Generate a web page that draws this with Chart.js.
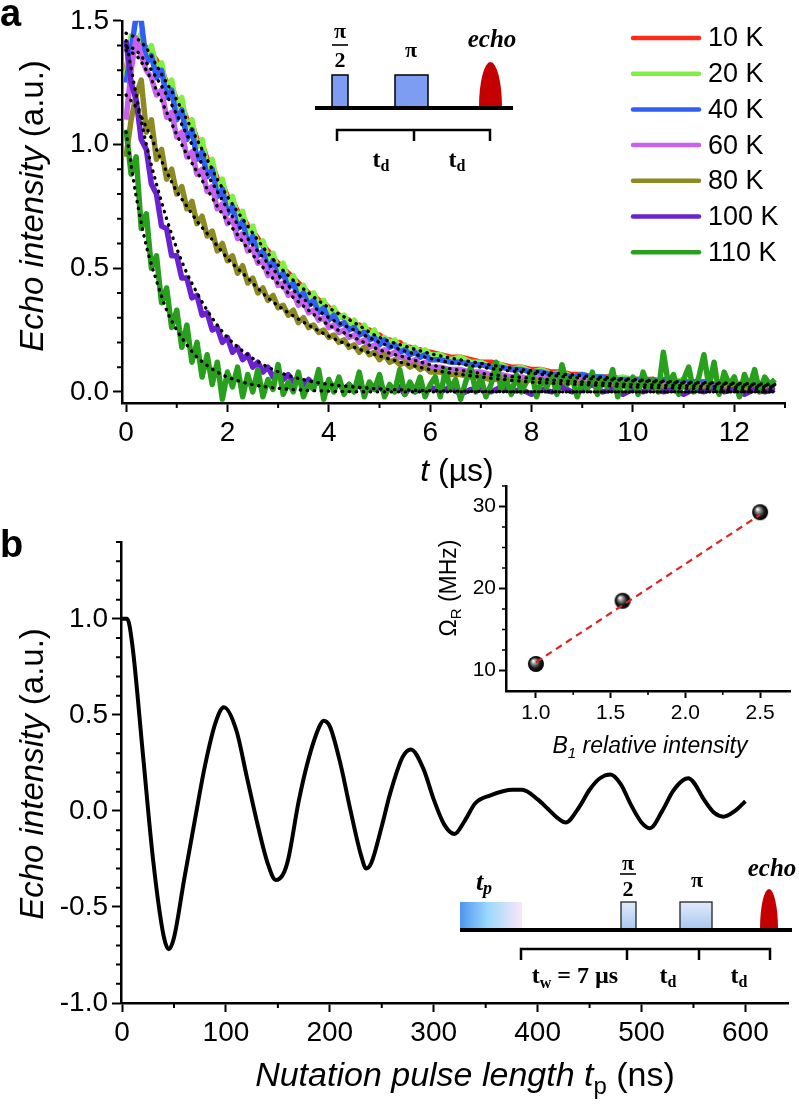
<!DOCTYPE html>
<html><head><meta charset="utf-8">
<script src="https://cdn.jsdelivr.net/npm/chart.js@4.4.0/dist/chart.umd.min.js"></script>
<style>
html,body{margin:0;padding:0;background:#fff;}
#wrap{position:relative;width:799px;height:1111px;overflow:hidden;background:#fff;}
canvas{position:absolute;left:0;top:0;}
</style></head><body>
<div id="wrap">
<canvas id="ca" width="799" height="1111"></canvas>
<canvas id="cb" width="799" height="1111"></canvas>
<canvas id="cc" width="799" height="1111"></canvas>
</div>
<script>
// ---------- Panel a data ----------
const T=[0,0.1,0.2,0.3,0.4,0.5,0.6,0.7,0.8,0.9,1,1.1,1.2,1.3,1.4,1.5,1.6,1.7,1.8,1.9,2,2.1,2.2,2.3,2.4,2.5,2.6,2.7,2.8,2.9,3,3.1,3.2,3.3,3.4,3.5,3.6,3.7,3.8,3.9,4,4.1,4.2,4.3,4.4,4.5,4.6,4.7,4.8,4.9,5,5.1,5.2,5.3,5.4,5.5,5.6,5.7,5.8,5.9,6,6.2,6.4,6.6,6.8,7,7.2,7.4,7.6,7.8,8,8.2,8.4,8.6,8.8,9,9.2,9.4,9.6,9.8,10,10.2,10.4,10.6,10.8,11,11.2,11.4,11.6,11.8,12,12.2,12.4,12.6,12.8];
const T110LATE=[6.1,6.2,6.3,6.4,6.5,6.6,6.7,6.8,6.9,7,7.1,7.2,7.3,7.4,7.5,7.6,7.7,7.8,7.9,8,8.1,8.2,8.3,8.4,8.5,8.6,8.7,8.8,8.9,9,9.1,9.2,9.3,9.4,9.5,9.6,9.7,9.8,9.9,10,10.1,10.2,10.3,10.4,10.5,10.6,10.7,10.8,10.9,11,11.1,11.2,11.3,11.4,11.5,11.6,11.7,11.8,11.9,12,12.1,12.2,12.3,12.4,12.5,12.6,12.7,12.8];
const LABELS=['10 K','20 K','40 K','60 K','80 K','100 K','110 K'];
const Y10=[1.30,1.41,1.43,1.42,1.39,1.37,1.34,1.30,1.25,1.23,1.18,1.16,1.10,1.08,1.02,1.00,0.94,0.92,0.86,0.84,0.79,0.77,0.73,0.71,0.67,0.65,0.62,0.59,0.57,0.54,0.52,0.50,0.48,0.46,0.44,0.42,0.40,0.39,0.37,0.36,0.34,0.33,0.31,0.30,0.29,0.27,0.27,0.25,0.25,0.23,0.23,0.21,0.21,0.20,0.20,0.18,0.18,0.17,0.17,0.16,0.16,
0.15,0.14,0.14,0.13,0.12,0.12,0.11,0.10,0.10,0.09,0.09,0.08,0.08,0.07,0.07,0.06,0.06,0.06,0.05,0.05,0.05,0.05,0.04,0.04,0.04,0.04,0.04,0.03,0.04,0.03,0.03,0.03,0.03,0.03];
const Y20=[1.28,1.44,1.40,1.45,1.36,1.40,1.31,1.33,1.22,1.26,1.15,1.19,1.07,1.10,0.99,1.02,0.91,0.94,0.83,0.86,0.76,0.79,0.70,0.73,0.64,0.67,0.59,0.61,0.54,0.56,0.49,0.52,0.45,0.47,0.41,0.43,0.38,0.40,0.35,0.37,0.32,0.34,0.30,0.31,0.27,0.29,0.25,0.27,0.23,0.25,0.21,0.22,0.20,0.21,0.18,0.19,0.17,0.18,0.16,0.17,0.15,
0.15,0.13,0.14,0.12,0.12,0.10,0.11,0.09,0.10,0.08,0.09,0.07,0.08,0.06,0.07,0.06,0.06,0.05,0.06,0.05,0.05,0.04,0.05,0.04,0.05,0.03,0.04,0.03,0.04,0.03,0.04,0.03,0.04,0.03];
const Y40=[1.25,1.38,1.52,1.50,1.33,1.36,1.27,1.30,1.19,1.22,1.10,1.14,1.02,1.06,0.94,0.97,0.87,0.90,0.79,0.82,0.72,0.75,0.66,0.69,0.60,0.63,0.55,0.57,0.50,0.53,0.46,0.48,0.42,0.44,0.38,0.40,0.35,0.37,0.32,0.34,0.29,0.31,0.27,0.28,0.25,0.26,0.23,0.24,0.21,0.22,0.19,0.21,0.18,0.19,0.16,0.17,0.15,0.16,0.14,0.15,0.13,
0.13,0.12,0.12,0.11,0.11,0.10,0.10,0.09,0.09,0.08,0.08,0.07,0.07,0.06,0.07,0.06,0.06,0.05,0.05,0.05,0.05,0.04,0.05,0.04,0.04,0.04,0.04,0.03,0.03,0.03,0.03,0.03,0.02,0.03];
const Y60=[1.10,1.30,1.43,1.36,1.30,1.27,1.20,1.22,1.11,1.13,1.03,1.05,0.95,0.97,0.88,0.90,0.81,0.83,0.74,0.76,0.68,0.70,0.62,0.64,0.57,0.58,0.52,0.53,0.47,0.49,0.43,0.44,0.39,0.40,0.35,0.37,0.32,0.33,0.29,0.30,0.26,0.27,0.24,0.25,0.22,0.23,0.20,0.21,0.18,0.19,0.16,0.17,0.15,0.16,0.14,0.14,0.12,0.13,0.11,0.12,0.10,
0.10,0.09,0.09,0.08,0.08,0.07,0.07,0.06,0.06,0.05,0.06,0.05,0.05,0.04,0.05,0.04,0.04,0.03,0.04,0.03,0.04,0.03,0.03,0.02,0.03,0.02,0.03,0.02,0.02,0.02,0.03,0.02,0.02,0.02];
const Y80=[0.95,1.10,1.20,1.26,1.05,1.10,0.94,0.98,0.86,0.90,0.80,0.83,0.74,0.77,0.68,0.71,0.63,0.65,0.57,0.60,0.53,0.55,0.48,0.51,0.44,0.46,0.40,0.42,0.37,0.39,0.34,0.35,0.31,0.33,0.28,0.30,0.26,0.27,0.24,0.25,0.22,0.23,0.20,0.21,0.18,0.19,0.16,0.18,0.15,0.16,0.13,0.15,0.12,0.13,0.11,0.12,0.10,0.11,0.09,0.10,0.08,
0.08,0.07,0.07,0.06,0.06,0.05,0.05,0.05,0.04,0.05,0.04,0.04,0.03,0.04,0.03,0.03,0.03,0.02,0.03,0.02,0.03,0.02,0.02,0.02,0.02,0.01,0.02,0.02,0.01,0.02,0.01,0.02,0.01,0.02];
const Y100=[1.42,1.25,1.18,1.02,0.98,0.84,0.80,0.67,0.66,0.55,0.55,0.46,0.46,0.38,0.39,0.31,0.32,0.25,0.26,0.20,0.22,0.16,0.18,0.13,0.15,0.10,0.12,0.08,0.10,0.06,0.08,0.05,0.07,0.04,0.06,0.03,0.05,0.03,0.04,0.02,0.04,0.02,0.03,0.01,0.03,0.01,0.03,0.00,0.02,0.01,0.02,0.00,0.02,0.01,0.02,-0.01,0.02,0.00,0.01,0.00,0.02,
0.00,0.02,-0.01,0.01,0.01,0.00,0.02,0.00,0.01,-0.01,0.01,0.00,0.02,0.00,0.01,0.03,0.00,0.01,-0.01,0.01,0.00,0.02,0.00,0.01,-0.01,0.01,0.00,0.02,0.00,0.01,-0.01,0.01,0.00,0.01];
const Y110EARLY=[1.06,0.88,0.95,0.66,0.72,0.50,0.55,0.36,0.42,0.26,0.33,0.18,0.27,0.12,0.20,0.06,0.15,0.03,0.12,-0.03,0.08,0.02,0.10,-0.02,0.07,0.00,0.09,-0.02,0.05,0.01,0.11,-0.01,0.04,0.00,0.08,-0.02,0.03,0.01,0.09,-0.03,0.05,0.00,0.06,-0.01,0.03,0.00,0.08,-0.02,0.04,0.01,0.07,-0.02,0.03,0.00,0.09,-0.01,0.04,0.00,0.06,-0.02,0.03];
const Y110LATE=[0.06,-0.02,0.09,0.01,0.05,-0.03,0.04,0.10,0.00,0.06,-0.02,0.03,0.12,0.01,0.05,-0.01,0.07,0.00,0.04,0.08,-0.02,0.05,0.02,0.07,-0.01,0.11,0.03,0.06,-0.02,0.04,0.01,0.08,-0.01,0.05,0.02,0.09,-0.02,0.04,0.01,0.06,-0.01,0.08,0.02,0.05,0.00,0.16,0.03,0.07,-0.01,0.05,0.10,0.00,0.06,0.15,0.02,0.12,-0.01,0.08,0.03,0.06,-0.02,0.07,0.02,0.09,0.00,0.06,0.03,0.05];
// fitted decays (dotted)
const FT=[0,0.2,0.4,0.6,0.8,1,1.2,1.4,1.6,1.8,2,2.4,2.8,3.2,3.6,4,4.5,5,5.5,6,7,8,9,10,11,12,12.8];
const F20=[1.45,1.43,1.39,1.32,1.25,1.18,1.10,1.02,0.94,0.86,0.79,0.67,0.56,0.47,0.40,0.34,0.28,0.22,0.185,0.155,0.115,0.085,0.065,0.05,0.04,0.035,0.03];
const F40=[1.40,1.38,1.33,1.27,1.20,1.12,1.04,0.96,0.88,0.81,0.74,0.62,0.52,0.43,0.36,0.30,0.25,0.20,0.165,0.135,0.10,0.075,0.055,0.045,0.035,0.03,0.025];
const F60=[1.38,1.36,1.30,1.22,1.13,1.04,0.96,0.89,0.82,0.75,0.69,0.58,0.48,0.40,0.33,0.27,0.22,0.17,0.14,0.11,0.075,0.055,0.04,0.03,0.025,0.02,0.02];
const F80=[1.20,1.15,1.07,0.98,0.89,0.81,0.75,0.69,0.64,0.59,0.54,0.46,0.38,0.32,0.27,0.225,0.18,0.145,0.115,0.09,0.06,0.04,0.03,0.02,0.015,0.01,0.01];
const F100=[1.42,1.20,1.00,0.84,0.70,0.58,0.48,0.40,0.33,0.27,0.22,0.15,0.10,0.066,0.045,0.03,0.02,0.012,0.008,0.005,0.002,0.001,0,0,0,0,0];
const F110=[1.05,0.79,0.59,0.45,0.33,0.25,0.19,0.14,0.107,0.08,0.06,0.034,0.019,0.011,0.006,0.003,0.001,0,0,0,0,0,0,0,0,0,0];
// ---------- Panel b data ----------
const NT=[0,5,10,20,30,40,45,50,60,70,80,90,98,110,120,130,140,148,155,160,170,180,190,194,200,210,220,230,235,240,250,258,270,278,290,300,310,320,330,340,354,376,385,400,410,420,427,440,450,460,470,480,490,500,508,520,530,540,545,550,560,570,579,590,600];
const NY=[1.00,1.00,0.86,0.30,-0.26,-0.65,-0.72,-0.66,-0.35,-0.05,0.24,0.46,0.54,0.42,0.18,-0.06,-0.27,-0.36,-0.33,-0.25,0.05,0.28,0.44,0.47,0.44,0.25,0.00,-0.23,-0.30,-0.27,-0.08,0.09,0.28,0.32,0.22,0.06,-0.07,-0.12,-0.05,0.04,0.08,0.11,0.11,0.06,0.01,-0.04,-0.06,0.02,0.11,0.17,0.19,0.14,0.03,-0.06,-0.09,0.00,0.10,0.16,0.17,0.15,0.06,-0.01,-0.03,0.00,0.05];
// ---------- Inset data ----------
const B1=[1.0,1.58,2.5];
const OMEGA=[10.8,18.5,29.3];
const LINX=[1.0,2.5];
const LINY=[11.0,29.0];
// ---------- tick lists ----------
const A_XMINOR=[1,3,5,7,9,11,13];
const A_YMINOR=[0.1,0.2,0.3,0.4,0.6,0.7,0.8,0.9,1.1,1.2,1.3,1.4];
const B_XMINOR=[50,150,250,350,450,550];
const B_YMINOR=[-0.9,-0.8,-0.7,-0.6,-0.4,-0.3,-0.2,-0.1,0.1,0.2,0.3,0.4,0.6,0.7,0.8,0.9,1.1,1.2,1.3,1.4];
const C_XMINOR=[1.25,1.75,2.25];
const C_YMINOR=[12.5,15,17.5,22.5,25,27.5,32.5];

const COLORS=['#ff2a1a','#80f040','#2f5ff5','#c861f0','#8c8a22','#6a22d0','#28a01e'];
const F="'Liberation Sans', Arial, Helvetica, sans-serif";
const S="'Liberation Serif', 'Times New Roman', serif";

function pts(xs,ys){return xs.map((x,i)=>({x:x,y:ys[i]}));}
function rich(ctx,parts,cx,by){
  let w=0; for(const p of parts){ctx.font=p[1]; w+=ctx.measureText(p[0]).width;}
  let x=cx-w/2; ctx.textAlign='left'; ctx.textBaseline='alphabetic';
  for(const p of parts){ctx.font=p[1]; ctx.fillText(p[0],x,by+(p[2]||0)); x+=ctx.measureText(p[0]).width;}
}
function vrich(ctx,parts,bx,cy){ctx.save();ctx.translate(bx,cy);ctx.rotate(-Math.PI/2);rich(ctx,parts,0,0);ctx.restore();}
function minor(chart,axis,vals,len,w){
  const s=chart.scales[axis],ctx=chart.ctx; ctx.save(); ctx.strokeStyle='#000'; ctx.lineWidth=w; ctx.beginPath();
  vals.forEach(v=>{ if(v<s.min-1e-9||v>s.max+1e-9) return; const p=s.getPixelForValue(v);
    if(axis==='x'){ctx.moveTo(p,s.top);ctx.lineTo(p,s.top+len);} else {ctx.moveTo(s.right,p);ctx.lineTo(s.right-len,p);} });
  ctx.stroke(); ctx.restore();
}
function axisOpts(min,max,step,fmt,fitKey,fitVal,fontSize,tickLen,pad){
  return {type:'linear',min:min,max:max,
    afterFit:s=>{s[fitKey]=fitVal;},
    border:{display:true,color:'#000',width:2.5},
    grid:{drawOnChartArea:false,drawTicks:true,tickLength:tickLen,tickWidth:2,tickColor:'#000'},
    ticks:{stepSize:step,includeBounds:false,autoSkip:false,maxRotation:0,color:'#000',padding:pad,
      font:{family:F,size:fontSize},callback:fmt}};
}

// ---------- Panel a ----------
const extraA={id:'extraA',afterDraw(chart){
  const ctx=chart.ctx; ctx.save();
  minor(chart,'x',A_XMINOR,5,2); minor(chart,'y',A_YMINOR,5,2);
  LABELS.forEach((lab,i)=>{const y=38+i*35.7;
    ctx.strokeStyle=COLORS[i]; ctx.lineWidth=4.5; ctx.lineCap='round';
    ctx.beginPath(); ctx.moveTo(633,y); ctx.lineTo(699,y); ctx.stroke();
    ctx.fillStyle='#000'; ctx.font='27px '+F; ctx.textAlign='left'; ctx.textBaseline='middle'; ctx.fillText(lab,708,y+1);});
  ctx.lineCap='butt';
  ctx.fillStyle='#000';
  vrich(ctx,[['Echo intensity','italic 33px '+F],[' (a.u.)','33px '+F]],43,206);
  rich(ctx,[['t','italic 32px '+F],[' (\u00b5s)','32px '+F]],457,481);
  ctx.font='bold 38px '+F; ctx.textAlign='left'; ctx.textBaseline='alphabetic'; ctx.fillText('a',0,26);
  ctx.fillStyle='#7d9df2'; ctx.strokeStyle='#000'; ctx.lineWidth=1.5;
  ctx.fillRect(332,75,16,33); ctx.strokeRect(332,75,16,33);
  ctx.fillRect(395,75,33,33); ctx.strokeRect(395,75,33,33);
  ctx.fillStyle='#c40000'; ctx.beginPath(); ctx.ellipse(490.5,107,11.5,45,0,Math.PI,2*Math.PI); ctx.closePath(); ctx.fill();
  ctx.lineWidth=4; ctx.beginPath(); ctx.moveTo(315,108); ctx.lineTo(513,108); ctx.stroke();
  ctx.fillStyle='#000'; ctx.textAlign='center'; ctx.textBaseline='alphabetic';
  ctx.font='bold 22px '+S; ctx.fillText('\u03c0',340,38); ctx.fillText('2',340,67); ctx.fillText('\u03c0',411,57);
  ctx.lineWidth=1.6; ctx.beginPath(); ctx.moveTo(332,45); ctx.lineTo(348,45); ctx.stroke();
  ctx.font='bold italic 25px '+S; ctx.fillText('echo',492,47);
  ctx.lineWidth=2.5; ctx.beginPath(); ctx.moveTo(337,141); ctx.lineTo(337,130); ctx.lineTo(490,130); ctx.lineTo(490,141);
  ctx.moveTo(414,130); ctx.lineTo(414,141); ctx.stroke();
  rich(ctx,[['t','bold 24px '+S],['d','bold 16px '+S,4]],381,167);
  rich(ctx,[['t','bold 24px '+S],['d','bold 16px '+S,4]],457,167);
  ctx.restore();
}};
const T110=T.slice(0,61).concat(T110LATE);
const Y110=Y110EARLY.concat(Y110LATE);
const seriesA=[[T,Y10],[T,Y20],[T,Y40],[T,Y60],[T,Y80],[T,Y100],[T110,Y110]];
const fitsA=[F20,F40,F60,F80,F100,F110];
const dsA=seriesA.map((s,i)=>({label:LABELS[i],data:pts(s[0],s[1]),borderColor:COLORS[i],borderWidth:5.5,pointRadius:0,
  tension:0,borderJoinStyle:'round',order:10-i}));
fitsA.forEach(Fv=>dsA.push({data:pts(FT,Fv),borderColor:'#000',borderWidth:3.3,borderDash:[0.5,6.5],borderCapStyle:'round',
  pointRadius:0,cubicInterpolationMode:'monotone',order:0}));
new Chart(document.getElementById('ca'),{type:'line',data:{datasets:dsA},
  options:{responsive:false,animation:false,devicePixelRatio:1,
    layout:{padding:{left:0,top:20,right:14,bottom:611}},
    plugins:{legend:{display:false},tooltip:{enabled:false}},
    scales:{x:axisOpts(-0.08,13,2,v=>String(v),'height',97,28,9,4),
            y:axisOpts(-0.045,1.5,0.5,v=>v.toFixed(1),'width',122,28,9,4)}},
  plugins:[extraA]});

// ---------- Panel b ----------
const extraB={id:'extraB',afterDraw(chart){
  const ctx=chart.ctx; ctx.save();
  minor(chart,'x',B_XMINOR,5,2); minor(chart,'y',B_YMINOR,5,2);
  ctx.fillStyle='#000';
  vrich(ctx,[['Echo intensity','italic 33px '+F],[' (a.u.)','33px '+F]],43,774);
  rich(ctx,[['Nutation pulse length t','italic 34px '+F],['p','24px '+F,8],[' (ns)','34px '+F]],465,1086);
  ctx.font='bold 38px '+F; ctx.textAlign='left'; ctx.textBaseline='alphabetic'; ctx.fillText('b',0,557);
  let g=ctx.createLinearGradient(460,0,522,0); g.addColorStop(0,'#4f94f0'); g.addColorStop(0.45,'#9bd9fb'); g.addColorStop(1,'#fde6f8');
  ctx.fillStyle=g; ctx.fillRect(460,902,62,28);
  let g2=ctx.createLinearGradient(0,902,0,930); g2.addColorStop(0,'#dfeafb'); g2.addColorStop(1,'#a9c6f0');
  ctx.fillStyle=g2; ctx.strokeStyle='#222'; ctx.lineWidth=1.3;
  ctx.fillRect(621,902,15,28); ctx.strokeRect(621,902,15,28);
  ctx.fillRect(680,902,32,28); ctx.strokeRect(680,902,32,28);
  ctx.fillStyle='#c40000'; ctx.beginPath(); ctx.ellipse(769,929,9,40,0,Math.PI,2*Math.PI); ctx.closePath(); ctx.fill();
  ctx.strokeStyle='#000'; ctx.lineWidth=4; ctx.beginPath(); ctx.moveTo(460,930); ctx.lineTo(792,930); ctx.stroke();
  ctx.lineWidth=2.5; ctx.beginPath(); ctx.moveTo(521,960); ctx.lineTo(521,949); ctx.lineTo(770,949); ctx.lineTo(770,960);
  ctx.moveTo(627,949); ctx.lineTo(627,960); ctx.moveTo(699,949); ctx.lineTo(699,960); ctx.stroke();
  ctx.fillStyle='#000'; ctx.textAlign='center';
  ctx.font='bold 22px '+S; ctx.fillText('\u03c0',628,870); ctx.fillText('2',628,896); ctx.fillText('\u03c0',697,887);
  ctx.lineWidth=1.6; ctx.beginPath(); ctx.moveTo(620,874); ctx.lineTo(636,874); ctx.stroke();
  ctx.font='bold italic 25px '+S; ctx.fillText('echo',772,876);
  rich(ctx,[['t','bold italic 26px '+S],['p','bold italic 18px '+S,4]],484,890);
  rich(ctx,[['t','bold 24px '+S],['w','bold 16px '+S,5],[' = 7 \u00b5s','bold 24px '+S]],575,983);
  rich(ctx,[['t','bold 24px '+S],['d','bold 16px '+S,4]],668,983);
  rich(ctx,[['t','bold 24px '+S],['d','bold 16px '+S,4]],739,983);
  ctx.restore();
}};
new Chart(document.getElementById('cb'),{type:'line',
  data:{datasets:[{data:pts(NT,NY),borderColor:'#000',borderWidth:4,pointRadius:0,cubicInterpolationMode:'monotone'}]},
  options:{responsive:false,animation:false,devicePixelRatio:1,
    layout:{padding:{left:0,top:542,right:11,bottom:0}},
    plugins:{legend:{display:false},tooltip:{enabled:false}},
    scales:{x:axisOpts(-1,641,100,v=>String(v),'height',108,28,9,4),
            y:axisOpts(-1,1.4,0.5,v=>v.toFixed(1),'width',121,28,9,4)}},
  plugins:[extraB]});

// ---------- Inset ----------
function sphere(r){const c=document.createElement('canvas');c.width=c.height=2*r+2;const g=c.getContext('2d');const cx=r+1,cy=r+1;
  const grad=g.createRadialGradient(cx-r*0.35,cy-r*0.4,r*0.05,cx,cy,r);
  grad.addColorStop(0,'#ffffff');grad.addColorStop(0.3,'#8a8a8a');grad.addColorStop(0.65,'#1a1a1a');grad.addColorStop(1,'#000');
  g.fillStyle=grad;g.beginPath();g.arc(cx,cy,r,0,Math.PI*2);g.fill();return c;}
const extraC={id:'extraC',afterDraw(chart){
  const ctx=chart.ctx; ctx.save();
  minor(chart,'x',C_XMINOR,4,1.6); minor(chart,'y',C_YMINOR,4,1.6);
  ctx.fillStyle='#000';
  rich(ctx,[['B','italic 23px '+F],['1','italic 15px '+F,5],[' relative intensity','italic 23px '+F]],650,753);
  vrich(ctx,[['\u03a9','23px '+F],['R','15px '+F,5],[' (MHz)','23px '+F]],456,588);
  ctx.restore();
}};
new Chart(document.getElementById('cc'),{type:'scatter',
  data:{datasets:[
    {type:'line',data:pts(LINX,LINY),borderColor:'#e02424',borderWidth:2.2,borderDash:[7,5],pointRadius:0,order:0},
    {data:pts(B1,OMEGA),pointStyle:sphere(8),pointRadius:8,order:1}]},
  options:{responsive:false,animation:false,devicePixelRatio:1,
    layout:{padding:{left:446,top:486,right:2,bottom:360}},
    plugins:{legend:{display:false},tooltip:{enabled:false}},
    scales:{x:axisOpts(0.8,2.7,0.5,v=>v.toFixed(1),'height',60,21,7,3),
            y:axisOpts(7.5,32.5,10,v=>String(v),'width',60,21,7,3)}},
  plugins:[extraC]});
</script>
</body></html>
